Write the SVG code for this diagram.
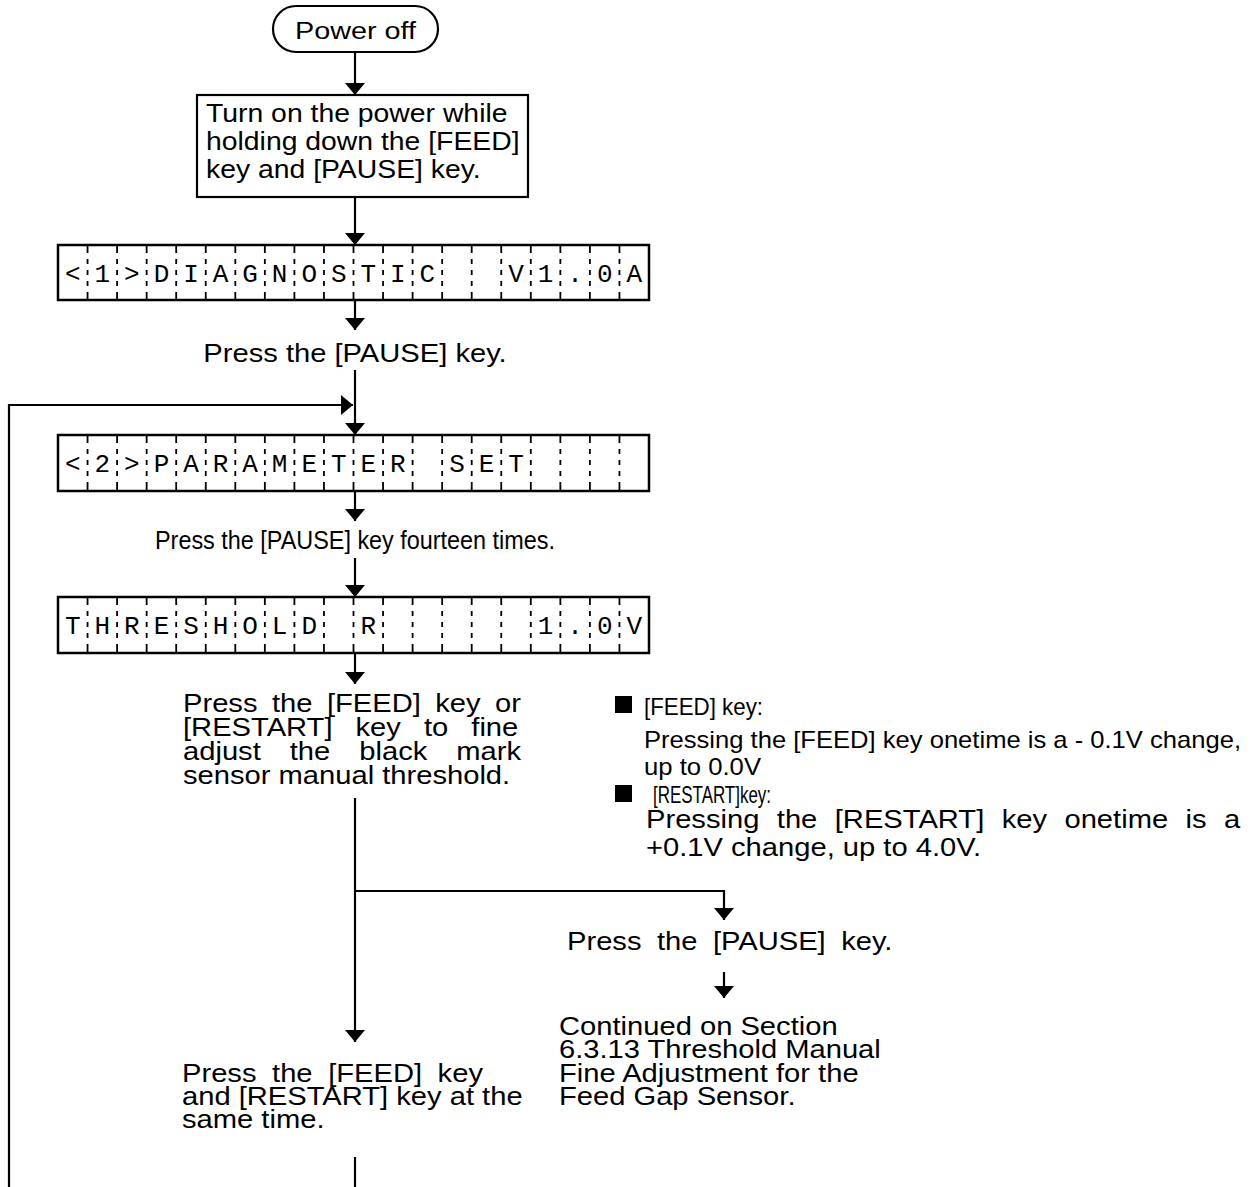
<svg xmlns="http://www.w3.org/2000/svg" width="1256" height="1187" viewBox="0 0 1256 1187">
<style>
.t{font-family:"Liberation Sans",Arial,sans-serif;font-size:26.5px;fill:#000}
.n{font-family:"Liberation Sans",Arial,sans-serif;font-size:24px;fill:#000}
.m{font-family:"Liberation Mono","Courier New",monospace;font-size:26px;fill:#000}
.box{fill:#fff;stroke:#000;stroke-width:2.2}
.lcd{fill:#fff;stroke:#000;stroke-width:2.5}
.div{fill:none;stroke:#000;stroke-width:1.8;stroke-dasharray:8 6 5 6 5 6 5 6 8}
.c{fill:none;stroke:#000;stroke-width:2.2}
</style>
<defs>
<marker id="ah" viewBox="0 0 12 20" refX="12" refY="10" markerWidth="12" markerHeight="20" markerUnits="userSpaceOnUse" orient="auto">
<path d="M0,0L12,10L0,20Z" fill="#000"/>
</marker>
</defs>
<g id="connectors">
<path class="c" d="M355,52V95" marker-end="url(#ah)"/>
<path class="c" d="M355,197V245" marker-end="url(#ah)"/>
<path class="c" d="M355,300V330" marker-end="url(#ah)"/>
<path class="c" d="M355,370V435" marker-end="url(#ah)"/>
<path class="c" d="M9,1187V405H353" marker-end="url(#ah)"/>
<path class="c" d="M355,491V521" marker-end="url(#ah)"/>
<path class="c" d="M355,558V597" marker-end="url(#ah)"/>
<path class="c" d="M355,653V684" marker-end="url(#ah)"/>
<path class="c" d="M355,798V1042" marker-end="url(#ah)"/>
<path class="c" d="M355,891H724V920" marker-end="url(#ah)"/>
<path class="c" d="M724,972V998" marker-end="url(#ah)"/>
<path class="c" d="M355,1157V1187"/>
</g>
<g id="power-off">
<rect class="box" x="273" y="6" width="165" height="46" rx="23"/>
<text class="t" style="font-size:24px" transform="matrix(1.2 0 0 1 355.5 0)" x="0" y="39" text-anchor="middle">Power off</text>
</g>
<g id="turn-on">
<rect class="box" x="197" y="95" width="331" height="102"/>
<text class="t" transform="matrix(1.07 0 0 1 206 0)" x="0" y="122">Turn on the power while</text>
<text class="t" transform="matrix(1.07 0 0 1 206 0)" x="0" y="150">holding down the [FEED]</text>
<text class="t" transform="matrix(1.07 0 0 1 206 0)" x="0" y="178">key and [PAUSE] key.</text>
</g>
<g id="lcd-diagnostic">
<rect class="lcd" x="58" y="245" width="591" height="55"/>
<path class="div" d="M87.55,245V300M117.1,245V300M146.65,245V300M176.2,245V300M205.75,245V300M235.3,245V300M264.85,245V300M294.4,245V300M323.95,245V300M353.5,245V300M383.05,245V300M412.6,245V300M442.15,245V300M471.7,245V300M501.25,245V300M530.8,245V300M560.35,245V300M589.9,245V300M619.45,245V300"/>
<text class="m" xml:space="preserve" text-anchor="middle" y="282" x="72.78 102.33 131.88 161.43 190.98 220.53 250.08 279.63 309.18 338.73 368.28 397.83 427.38 456.93 486.48 516.03 545.58 575.13 604.68 634.23">&lt;1&gt;DIAGNOSTIC  V1.0A</text>
</g>
<g id="step-pause">
<text class="t" transform="matrix(1.1 0 0 1 355 0)" x="0" y="362" text-anchor="middle">Press the [PAUSE] key.</text>
</g>
<g id="lcd-parameter">
<rect class="lcd" x="58" y="435" width="591" height="56"/>
<path class="div" d="M87.55,435V491M117.1,435V491M146.65,435V491M176.2,435V491M205.75,435V491M235.3,435V491M264.85,435V491M294.4,435V491M323.95,435V491M353.5,435V491M383.05,435V491M412.6,435V491M442.15,435V491M471.7,435V491M501.25,435V491M530.8,435V491M560.35,435V491M589.9,435V491M619.45,435V491"/>
<text class="m" xml:space="preserve" text-anchor="middle" y="472" x="72.78 102.33 131.88 161.43 190.98 220.53 250.08 279.63 309.18 338.73 368.28 397.83 427.38 456.93 486.48 516.03 545.58 575.13 604.68 634.23">&lt;2&gt;PARAMETER SET    </text>
</g>
<g id="step-fourteen">
<text class="t" x="155" y="549" textLength="400" lengthAdjust="spacingAndGlyphs">Press the [PAUSE] key fourteen times.</text>
</g>
<g id="lcd-threshold">
<rect class="lcd" x="58" y="597" width="591" height="56"/>
<path class="div" d="M87.55,597V653M117.1,597V653M146.65,597V653M176.2,597V653M205.75,597V653M235.3,597V653M264.85,597V653M294.4,597V653M323.95,597V653M353.5,597V653M383.05,597V653M412.6,597V653M442.15,597V653M471.7,597V653M501.25,597V653M530.8,597V653M560.35,597V653M589.9,597V653M619.45,597V653"/>
<text class="m" xml:space="preserve" text-anchor="middle" y="634" x="72.78 102.33 131.88 161.43 190.98 220.53 250.08 279.63 309.18 338.73 368.28 397.83 427.38 456.93 486.48 516.03 545.58 575.13 604.68 634.23">THRESHOLD R     1.0V</text>
</g>
<g id="step-adjust">
<text class="t" transform="matrix(1.1 0 0 1 183 0)" x="0" y="712" word-spacing="5.8">Press the [FEED] key or</text>
<text class="t" transform="matrix(1.1 0 0 1 183 0)" x="0" y="736" word-spacing="13.6">[RESTART] key to fine</text>
<text class="t" transform="matrix(1.1 0 0 1 183 0)" x="0" y="760" word-spacing="19">adjust the black mark</text>
<text class="t" transform="matrix(1.1 0 0 1 183 0)" x="0" y="784">sensor manual threshold.</text>
</g>
<g id="notes">
<rect x="615" y="696" width="17" height="17" fill="#000"/>
<text class="n" x="644" y="715" textLength="119" lengthAdjust="spacingAndGlyphs">[FEED] key:</text>
<text class="n" x="644" y="748" textLength="597" lengthAdjust="spacingAndGlyphs" xml:space="preserve">Pressing the [FEED] key onetime is a - 0.1V change,</text>
<text class="n" x="644" y="775" textLength="117" lengthAdjust="spacingAndGlyphs">up to 0.0V</text>
<rect x="615" y="785" width="17" height="17" fill="#000"/>
<text class="n" x="653" y="803" textLength="118" lengthAdjust="spacingAndGlyphs">[RESTART]key:</text>
<text class="t" transform="matrix(1.1 0 0 1 646 0)" x="0" y="828" word-spacing="8.5">Pressing the [RESTART] key onetime is a</text>
<text class="t" transform="matrix(1.1 0 0 1 646 0)" x="0" y="856">+0.1V change, up to 4.0V.</text>
</g>
<g id="step-pause-2">
<text class="t" transform="matrix(1.1 0 0 1 567 0)" x="0" y="950" word-spacing="6.7">Press the [PAUSE] key.</text>
</g>
<g id="continued">
<text class="t" transform="matrix(1.1 0 0 1 559 0)" x="0" y="1035">Continued on Section</text>
<text class="t" transform="matrix(1.1 0 0 1 559 0)" x="0" y="1058">6.3.13 Threshold Manual</text>
<text class="t" transform="matrix(1.1 0 0 1 559 0)" x="0" y="1082">Fine Adjustment for the</text>
<text class="t" transform="matrix(1.1 0 0 1 559 0)" x="0" y="1105">Feed Gap Sensor.</text>
</g>
<g id="step-both">
<text class="t" transform="matrix(1.1 0 0 1 182 0)" x="0" y="1082" word-spacing="6.8">Press the [FEED] key</text>
<text class="t" transform="matrix(1.1 0 0 1 182 0)" x="0" y="1105">and [RESTART] key at the</text>
<text class="t" transform="matrix(1.1 0 0 1 182 0)" x="0" y="1128">same time.</text>
</g>
</svg>
